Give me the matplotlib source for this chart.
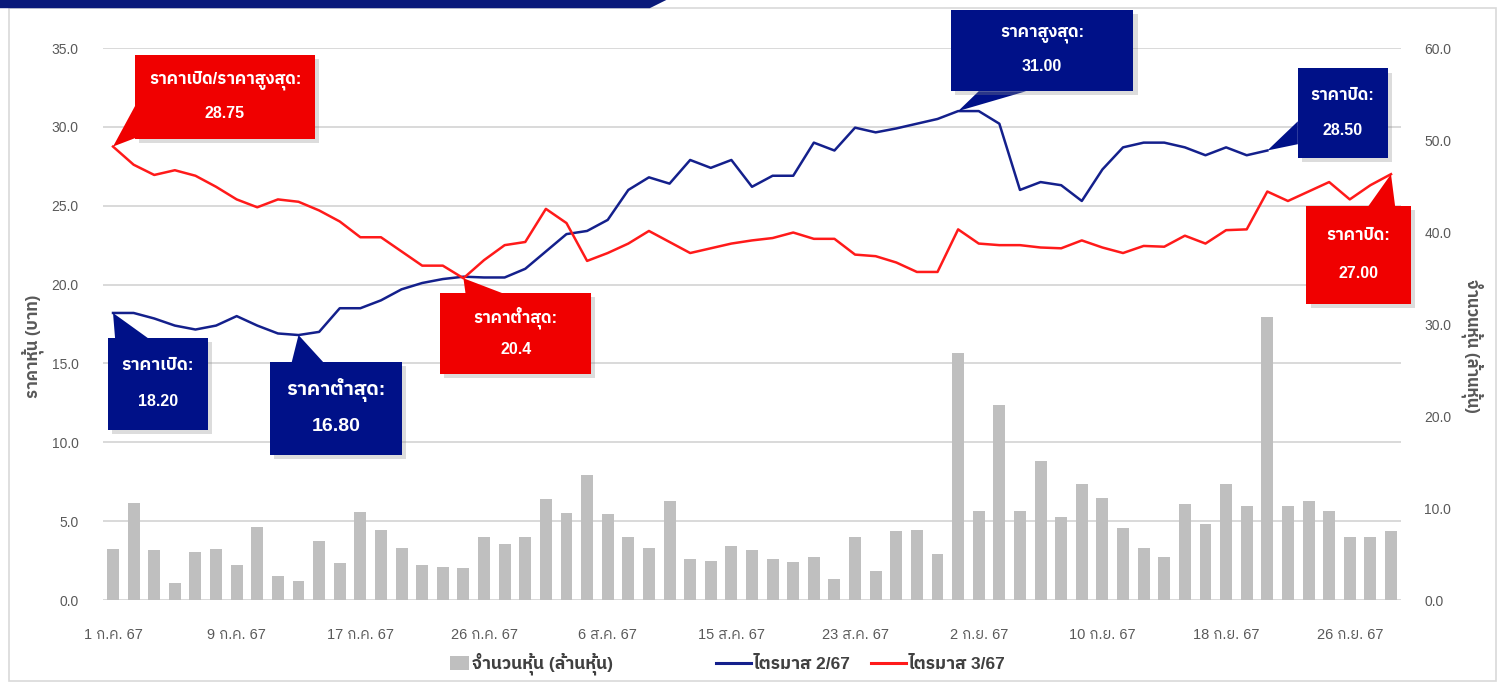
import matplotlib
matplotlib.use('Agg')
import matplotlib.pyplot as plt
import matplotlib.patheffects as pe
from matplotlib import font_manager
from matplotlib.ft2font import FT2Font
from matplotlib.patches import Rectangle, Polygon, Patch
from matplotlib.lines import Line2D

# --- data ---
x_tick_pos = [0, 6, 12, 18, 24, 30, 36, 42, 48, 54, 60]
x_tick_labels = ['1 ก.ค. 67', '9 ก.ค. 67', '17 ก.ค. 67', '26 ก.ค. 67', '6 ส.ค. 67',
                 '15 ส.ค. 67', '23 ส.ค. 67', '2 ก.ย. 67', '10 ก.ย. 67', '18 ก.ย. 67',
                 '26 ก.ย. 67']

# volume (million shares), Q3/67 trading days
volume = [5.5, 10.5, 5.4, 1.9, 5.2, 5.5, 3.8, 7.9, 2.6, 2.1,
          6.4, 4.0, 9.6, 7.6, 5.7, 3.8, 3.6, 3.5, 6.9, 6.1,
          6.9, 11.0, 9.5, 13.6, 9.3, 6.9, 5.7, 10.8, 4.5, 4.2,
          5.9, 5.4, 4.5, 4.1, 4.65, 2.25, 6.9, 3.1, 7.5, 7.6,
          5.0, 26.9, 9.7, 21.2, 9.7, 15.1, 9.0, 12.65, 11.1, 7.8,
          5.6, 4.65, 10.4, 8.3, 12.65, 10.2, 30.8, 10.2, 10.8, 9.7,
          6.9, 6.9, 7.5]

# price Q2/67 (baht)
price_q2 = [18.2, 18.2, 17.85, 17.4, 17.15, 17.4, 18.0, 17.4, 16.9, 16.8,
            17.0, 18.5, 18.5, 19.0, 19.7, 20.1, 20.35, 20.5, 20.45, 20.45,
            21.0, 22.1, 23.2, 23.4, 24.1, 26.0, 26.8, 26.4, 27.9, 27.4,
            27.9, 26.2, 26.9, 26.9, 29.0, 28.5, 29.95, 29.65, 29.9, 30.2,
            30.5, 31.0, 31.0, 30.2, 26.0, 26.5, 26.3, 25.3, 27.3, 28.7,
            29.0, 29.0, 28.7, 28.2, 28.7, 28.2, 28.5]

# price Q3/67 (baht)
price_q3 = [28.75, 27.6, 26.95, 27.25, 26.9, 26.2, 25.4, 24.9, 25.4, 25.25,
            24.7, 24.0, 23.0, 23.0, 22.1, 21.2, 21.2, 20.4, 21.55, 22.5,
            22.7, 24.8, 23.9, 21.5, 22.0, 22.6, 23.4, 22.7, 22.0, 22.3,
            22.6, 22.8, 22.95, 23.3, 22.9, 22.9, 21.9, 21.8, 21.4, 20.8,
            20.8, 23.5, 22.6, 22.5, 22.5, 22.35, 22.3, 22.8, 22.35, 22.0,
            22.45, 22.4, 23.1, 22.6, 23.45, 23.5, 25.9, 25.3, 25.9, 26.5,
            25.4, 26.3, 27.0]

legend_labels = ['จำนวนหุ้น (ล้านหุ้น)', 'ไตรมาส 2/67', 'ไตรมาส 3/67']


# pick an installed font that has Thai glyphs
def find_thai_font():
    names = []
    for f in font_manager.fontManager.ttflist:
        try:
            cmap = FT2Font(f.fname).get_charmap()
        except Exception:
            continue
        if 0x0E23 in cmap and 0x0E32 in cmap and 0x0E49 in cmap:
            names.append(f.name)
    for n in names:
        if 'Thai' in n:
            return n
    return names[0] if names else 'DejaVu Sans'


thai_font = find_thai_font()
plt.rcParams['font.family'] = ['Liberation Sans', thai_font, 'DejaVu Sans']

BLUE = '#14208c'
RED = '#ff1a1a'
BOX_RED = '#f00000'
BOX_BLUE = '#001188'
GRAY_TXT = '#595959'

n = len(volume)
xs = list(range(n))

fig = plt.figure(figsize=(15.04, 6.84), dpi=100)
rect = [102.7 / 1504, 84 / 684, 1298.6 / 1504, 552 / 684]

# bottom axes just for the gridlines, then bars, then lines on top
ax_grid = fig.add_axes(rect, zorder=0)
axb = fig.add_axes(rect, zorder=1)
ax = fig.add_axes(rect, zorder=2)

for a in (ax_grid, axb, ax):
    a.set_xlim(-0.5, n - 0.5)
    for s in a.spines.values():
        s.set_visible(False)
axb.patch.set_visible(False)
ax.patch.set_visible(False)

ax_grid.set_ylim(0, 35)
ax_grid.set_yticks(range(0, 36, 5))
ax_grid.yaxis.grid(True, color='#d9d9d9', lw=1.4)
ax_grid.tick_params(left=False, bottom=False, labelleft=False, labelbottom=False)

# volume bars on the right scale
axb.bar(xs, volume, width=0.58, color='#bfbfbf')
axb.set_ylim(0, 60)
axb.set_yticks(range(0, 61, 10))
axb.set_yticklabels([f'{v:.1f}' for v in range(0, 61, 10)])
axb.yaxis.tick_right()
axb.yaxis.set_label_position('right')
axb.tick_params(axis='y', right=False, left=False, labelright=True, labelleft=False,
                labelsize=10, labelcolor=GRAY_TXT, pad=13)
axb.tick_params(axis='x', bottom=False, labelbottom=False)
axb.set_ylabel('จำนวนหุ้น (ล้านหุ้น)', rotation=270, fontsize=12, fontweight='bold',
               color=GRAY_TXT)
axb.yaxis.set_label_coords(1.0637, 0.46)

# price lines on the left scale
ax.plot(range(len(price_q2)), price_q2, color=BLUE, lw=1.8)
ax.plot(range(len(price_q3)), price_q3, color=RED, lw=1.8)
ax.set_ylim(0, 35)
ax.set_yticks(range(0, 36, 5))
ax.set_yticklabels([f'{v:.1f}' for v in range(0, 36, 5)])
ax.tick_params(axis='y', left=False, labelsize=10, labelcolor=GRAY_TXT, pad=14)
ax.set_xticks(x_tick_pos)
ax.set_xticklabels(x_tick_labels)
ax.tick_params(axis='x', bottom=False, labelsize=10.5, labelcolor=GRAY_TXT, pad=17)
ax.set_ylabel('ราคาหุ้น (บาท)', fontsize=12, fontweight='bold', color=GRAY_TXT)
ax.yaxis.set_label_coords(-0.045, 0.46)


# callouts: box in data units (x0, x1, y0, y1), wedge base points, tip on the series
def callout(line1, line2, color, box, base, tip, fs1, fs2):
    x0, x1, y0, y1 = box
    shadow = [pe.withSimplePatchShadow(offset=(3, -3), shadow_rgbFace='#8c8c8c', alpha=0.3)]
    wedge = Polygon([tip, base[0], base[1]], closed=True, fc=color, ec='none',
                    clip_on=False, zorder=5)
    ax.add_patch(wedge)
    r = Rectangle((x0, y0), x1 - x0, y1 - y0, fc=color, ec='none', clip_on=False,
                  zorder=6, path_effects=shadow)
    ax.add_patch(r)
    xc = (x0 + x1) / 2
    h = y1 - y0
    ax.text(xc, y0 + 0.70 * h, line1, color='white', fontsize=fs1, fontweight='bold',
            ha='center', va='center', zorder=7, clip_on=False)
    ax.text(xc, y0 + 0.31 * h, line2, color='white', fontsize=fs2, fontweight='bold',
            ha='center', va='center', zorder=7, clip_on=False)


i_max3 = 0
i_min3 = price_q3.index(min(price_q3))
i_min2 = price_q2.index(min(price_q2))
i_max2 = price_q2.index(max(price_q2))
i_end2 = len(price_q2) - 1
i_end3 = len(price_q3) - 1

callout('ราคาเปิด/ราคาสูงสุด:', f'{price_q3[0]:.2f}', BOX_RED,
        (1.07, 9.8, 29.21, 34.54), [(1.1, 29.3), (1.1, 31.4)],
        (i_max3, price_q3[i_max3]), 12, 11.5)
callout('ราคาเปิด:', f'{price_q2[0]:.2f}', BOX_BLUE,
        (-0.24, 4.61, 10.77, 16.6), [(0.1, 16.6), (1.7, 16.6)],
        (0, price_q2[0]), 12.5, 11.5)
callout('ราคาต่ำสุด:', f'{price_q2[i_min2]:.2f}', BOX_BLUE,
        (7.62, 14.03, 9.19, 15.08), [(8.67, 15.08), (10.2, 15.08)],
        (i_min2, price_q2[i_min2]), 14, 14)
callout('ราคาต่ำสุด:', f'{price_q3[i_min3]:.1f}', BOX_RED,
        (15.87, 23.2, 14.32, 19.45), [(17.1, 19.45), (18.9, 19.45)],
        (i_min3, price_q3[i_min3]), 12, 11.5)
callout('ราคาสูงสุด:', f'{price_q2[i_max2]:.2f}', BOX_BLUE,
        (40.63, 49.5, 32.26, 37.39), [(42.0, 32.26), (44.3, 32.26)],
        (i_max2, price_q2[i_max2]), 12, 11.5)
callout('ราคาปิด:', f'{price_q2[i_end2]:.2f}', BOX_BLUE,
        (57.48, 61.84, 28.01, 33.71), [(57.48, 28.9), (57.48, 30.35)],
        (i_end2, price_q2[i_end2]), 12, 11.5)
callout('ราคาปิด:', f'{price_q3[i_end3]:.2f}', BOX_RED,
        (57.9, 62.96, 18.76, 24.97), [(60.9, 24.97), (62.2, 24.97)],
        (i_end3, price_q3[i_end3]), 12, 11.5)

# legend: one entry per legend so each sits where the reference has it
handles = [Patch(fc='#bfbfbf', ec='none'),
           Line2D([], [], color=BLUE, lw=2.2),
           Line2D([], [], color=RED, lw=2.2)]
leg_x = [450 / 1504, 716 / 1504, 871 / 1504]
leg_len = [1.1, 2.0, 2.0]
for h, lab, lx, hl in zip(handles, legend_labels, leg_x, leg_len):
    leg = fig.legend([h], [lab], loc='center left', bbox_to_anchor=(lx, 0.029),
                     frameon=False, prop={'size': 12.5, 'weight': 'bold'},
                     handlelength=hl, handleheight=0.85,
                     handletextpad=0.15, borderpad=0, borderaxespad=0)
    for t in leg.get_texts():
        t.set_color('#404040')

# outer frame and header strip
fig.patches.append(Rectangle((0.006, 0.004), 0.989, 0.984, transform=fig.transFigure,
                             fill=False, ec='#d9d9d9', lw=1.2))
fig.patches.append(Polygon([(0, 1.0), (0.443, 1.0), (0.432, 0.988), (0, 0.988)],
                           closed=True, transform=fig.transFigure, fc='#0a1a7a', ec='none'))

fig.savefig('out.png', dpi=100)
